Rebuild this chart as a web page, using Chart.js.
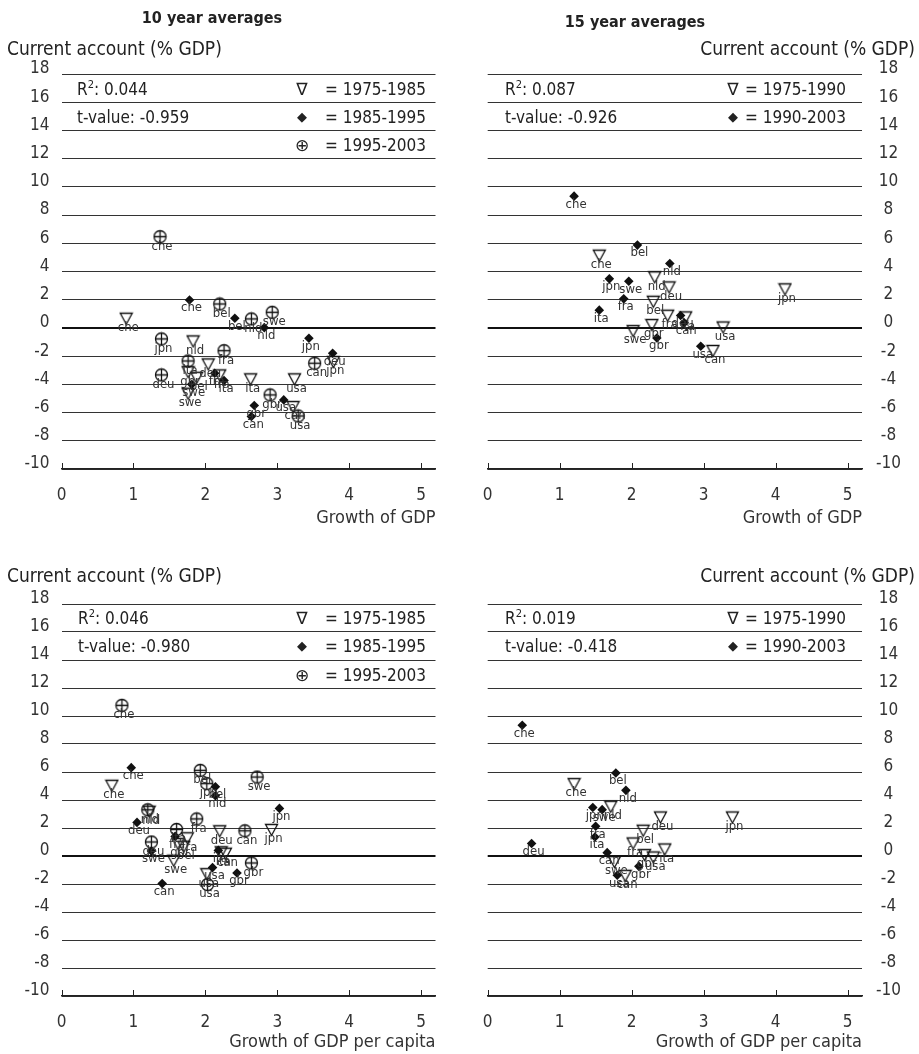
<!DOCTYPE html>
<html>
<head>
<meta charset="utf-8">
<script src="https://cdn.jsdelivr.net/npm/chart.js@4.4.1/dist/chart.umd.min.js"></script>
<style>
  body { margin: 0; background: #fff; width: 919px; height: 1054px; position: relative; overflow: hidden;
    font-family: "Liberation Sans Narrow", "DejaVu Sans Condensed", "Roboto Condensed", Roboto, sans-serif;
    font-stretch: condensed; color: #222; }
  canvas { position: absolute; }
  .note { position: absolute; white-space: nowrap; font-size: 17px; line-height: 20px; }
  .note sup { font-size: 11px; line-height: 0; }
  .sym { font-family: "DejaVu Sans", sans-serif; font-stretch: normal; }
</style>
</head>
<body>
<script>
const fontFamily = '"Liberation Sans Narrow", "DejaVu Sans Condensed", "Roboto Condensed", Roboto, sans-serif';

const countries = ['bel', 'can', 'che', 'deu', 'fra', 'gbr', 'ita', 'jpn', 'nld', 'swe', 'usa'];
const xTicks = [0, 1, 2, 3, 4, 5];
const yTicks = [-10, -8, -6, -4, -2, 0, 2, 4, 6, 8, 10, 12, 14, 16, 18];

// 10 year averages vs growth of GDP (countries in the order above)
const gdp10_7585_x = [1.88, 3.22, 0.90, 2.04, 2.20, 1.76, 2.63, 3.78, 1.83, 1.76, 3.24];
const gdp10_7585_y = [-3.5, -5.57, 0.69, -2.55, -3.33, -3.1, -3.61, -2.38, -0.92, -4.63, -3.61];
const gdp10_8595_x = [2.41, 2.64, 1.78, 3.77, 2.13, 2.68, 2.26, 3.44, 2.82, 1.81, 3.09];
const gdp10_8595_y = [0.69, -6.28, 1.98, -1.80, -3.21, -5.50, -3.73, -0.73, 0.02, -4.0, -5.10];
const gdp10_9503_x = [2.20, 3.52, 1.37, 1.39, 2.26, 2.90, 1.76, 1.39, 2.64, 2.93, 3.29];
const gdp10_9503_y = [1.70, -2.50, 6.47, -3.33, -1.61, -4.75, -2.34, -0.78, 0.64, 1.11, -6.24];

// 15 year averages vs growth of GDP
const gdp15_7590_x = [2.30, 3.13, 1.55, 2.52, 2.50, 2.28, 2.75, 4.13, 2.32, 2.02, 3.27];
const gdp15_7590_y = [1.89, -1.60, 5.16, 2.91, 0.90, 0.24, 0.78, 2.77, 3.62, -0.19, 0.07];
const gdp15_9003_x = [2.08, 2.73, 1.20, 2.68, 1.89, 2.35, 1.55, 1.69, 2.53, 1.96, 2.96];
const gdp15_9003_y = [5.87, 0.36, 9.34, 0.88, 2.06, -0.71, 1.26, 3.48, 4.57, 3.31, -1.30];

// 10 year averages vs growth of GDP per capita
const cap10_7585_x = [1.70, 2.28, 0.70, 2.20, 1.75, 1.62, 2.22, 2.92, 1.22, 1.56, 2.02];
const cap10_7585_y = [0.7, 0.2, 5.05, 1.8, 1.3, 0.9, 0.3, 1.9, 3.2, -0.3, -1.26];
const cap10_8595_x = [2.14, 1.40, 0.97, 1.05, 1.58, 2.44, 2.18, 3.03, 2.14, 1.25, 2.10];
const cap10_8595_y = [4.95, -1.97, 6.31, 2.4, 1.4, -1.21, 0.4, 3.4, 4.3, 0.35, -0.83];
const cap10_9503_x = [1.93, 2.55, 0.84, 1.25, 1.88, 2.64, 1.60, 2.02, 1.20, 2.72, 2.03];
const cap10_9503_y = [6.12, 1.8, 10.76, 1.0, 2.65, -0.5, 1.9, 5.17, 3.3, 5.64, -2.04];

// 15 year averages vs growth of GDP per capita
const cap15_7590_x = [2.16, 1.91, 1.20, 2.40, 2.02, 2.18, 2.46, 3.40, 1.71, 1.76, 2.30];
const cap15_7590_y = [1.84, -1.38, 5.17, 2.79, 0.93, 0.1, 0.5, 2.79, 3.55, -0.4, -0.07];
const cap15_9003_x = [1.78, 1.66, 0.48, 0.61, 1.50, 2.10, 1.49, 1.46, 1.92, 1.59, 1.80];
const cap15_9003_y = [5.93, 0.24, 9.34, 0.89, 2.12, -0.74, 1.36, 3.46, 4.69, 3.31, -1.38];

const r2Values = ['0.044', '0.087', '0.046', '0.019'];
const tValues = ['-0.959', '-0.926', '-0.980', '-0.418'];
const periods10 = ['1975-1985', '1985-1995', '1995-2003'];
const periods15 = ['1975-1990', '1990-2003'];

// marker images
function makeMarker(kind) {
  const c = document.createElement('canvas');
  c.width = 15; c.height = 15;
  const g = c.getContext('2d');
  g.strokeStyle = '#111';
  g.lineWidth = 1.3;
  g.beginPath();
  if (kind === 'tri') {
    g.moveTo(1.5, 2.5); g.lineTo(13.5, 2.5); g.lineTo(7.5, 13.5); g.closePath();
  } else {
    g.arc(7.5, 7.5, 6, 0, 2 * Math.PI);
    g.moveTo(1.5, 7.5); g.lineTo(13.5, 7.5);
    g.moveTo(7.5, 1.5); g.lineTo(7.5, 13.5);
  }
  g.stroke();
  return c;
}
const triImg = makeMarker('tri');
const plusImg = makeMarker('oplus');

const pts = (xs, ys) => xs.map((x, i) => ({ x: x, y: ys[i] }));

function series(kind, xs, ys) {
  const ds = { data: pts(xs, ys), codes: countries, pointRadius: 7, pointHoverRadius: 7 };
  if (kind === 'dia') {
    ds.pointStyle = 'rectRot';
    ds.pointRadius = 4.8;
    ds.pointHoverRadius = 4.8;
    ds.backgroundColor = '#111';
    ds.borderWidth = 0;
    ds.labelDy = 8;
  } else {
    ds.pointStyle = kind === 'tri' ? triImg : plusImg;
    ds.labelDy = 9.5;
  }
  return ds;
}

const pointLabels = {
  id: 'pointLabels',
  afterDatasetsDraw(chart) {
    const ctx = chart.ctx;
    ctx.save();
    ctx.font = '13px ' + fontFamily;
    ctx.fillStyle = '#333';
    ctx.textAlign = 'center';
    ctx.textBaseline = 'middle';
    chart.data.datasets.forEach((ds, i) => {
      chart.getDatasetMeta(i).data.forEach((pt, j) => {
        ctx.fillText(ds.codes[j], pt.x + 2, pt.y + ds.labelDy);
      });
    });
    ctx.restore();
  }
};

// small ticks pointing up from the x axis
const axisTicks = {
  id: 'axisTicks',
  afterDraw(chart) {
    const ctx = chart.ctx, xs = chart.scales.x, bottom = chart.chartArea.bottom;
    ctx.save();
    ctx.strokeStyle = '#222';
    ctx.lineWidth = 1;
    ctx.beginPath();
    xTicks.forEach(v => {
      const px = Math.round(xs.getPixelForValue(v)) + 0.5;
      ctx.moveTo(px, bottom);
      ctx.lineTo(px, bottom - 6);
    });
    ctx.stroke();
    ctx.restore();
  }
};

function makePanel(p) {
  const wrap = document.createElement('div');
  wrap.style.position = 'absolute';
  wrap.style.left = p.left + 'px';
  wrap.style.top = p.top + 'px';
  wrap.style.width = p.width + 'px';
  wrap.style.height = p.height + 'px';
  const canvas = document.createElement('canvas');
  canvas.style.left = '0px';
  canvas.style.top = '0px';
  canvas.style.width = p.width + 'px';
  canvas.style.height = p.height + 'px';
  wrap.appendChild(canvas);
  document.body.appendChild(wrap);

  const left = p.side === 'left';
  new Chart(canvas, {
    type: 'scatter',
    data: { datasets: p.datasets },
    options: {
      responsive: false,
      animation: false,
      events: [],
      layout: { padding: { top: 74, left: left ? 0 : 27.7, right: left ? 24.5 : 0, bottom: 0 } },
      plugins: { legend: { display: false }, tooltip: { enabled: false } },
      scales: {
        x: {
          type: 'linear', min: 0, max: 5.2,
          afterBuildTicks: s => { s.ticks = xTicks.map(v => ({ value: v })); },
          afterFit: s => { s.height = p.xAxisHeight; },
          grid: { display: false },
          border: { display: true, color: '#222', width: 1.5 },
          ticks: { font: { size: 17 }, color: '#333', padding: 8, maxRotation: 0 },
          title: { display: true, text: p.xTitle, align: 'end', font: { size: 18 }, color: '#333', padding: { top: 0, bottom: 1 } }
        },
        y: {
          type: 'linear', min: -10, max: 18, position: p.side,
          afterBuildTicks: s => { s.ticks = yTicks.map(v => ({ value: v })); },
          afterFit: s => { s.width = left ? 61.5 : 57; },
          border: { display: false },
          grid: {
            drawTicks: false,
            color: c => c.tick && c.tick.value === 0 ? '#111' : '#333',
            lineWidth: c => c.tick && c.tick.value === 0 ? 2 : 1
          },
          ticks: { font: { size: 17 }, color: '#333', padding: left ? 12 : 14, crossAlign: left ? 'near' : 'center', labelOffset: -5 }
        }
      }
    },
    plugins: [pointLabels, axisTicks]
  });
}

function note(html, x, y, align, extra) {
  const d = document.createElement('div');
  d.className = 'note';
  d.innerHTML = html;
  d.style.top = (y - 10) + 'px';
  if (align === 'right') d.style.right = (919 - x) + 'px';
  else d.style.left = x + 'px';
  if (align === 'center') d.style.transform = 'translateX(-50%)';
  if (extra) Object.assign(d.style, extra);
  document.body.appendChild(d);
  return d;
}

Chart.defaults.font.family = fontFamily;

makePanel({ left: 0, top: 0, width: 460, height: 530, side: 'left', xAxisHeight: 61, xTitle: 'Growth of GDP',
  datasets: [series('tri', gdp10_7585_x, gdp10_7585_y), series('dia', gdp10_8595_x, gdp10_8595_y), series('plus', gdp10_9503_x, gdp10_9503_y)] });
makePanel({ left: 460, top: 0, width: 459, height: 530, side: 'right', xAxisHeight: 61, xTitle: 'Growth of GDP',
  datasets: [series('tri', gdp15_7590_x, gdp15_7590_y), series('dia', gdp15_9003_x, gdp15_9003_y)] });
makePanel({ left: 0, top: 530, width: 460, height: 524, side: 'left', xAxisHeight: 58, xTitle: 'Growth of GDP per capita',
  datasets: [series('tri', cap10_7585_x, cap10_7585_y), series('dia', cap10_8595_x, cap10_8595_y), series('plus', cap10_9503_x, cap10_9503_y)] });
makePanel({ left: 460, top: 530, width: 459, height: 524, side: 'right', xAxisHeight: 58, xTitle: 'Growth of GDP per capita',
  datasets: [series('tri', cap15_7590_x, cap15_7590_y), series('dia', cap15_9003_x, cap15_9003_y)] });

// titles and axis captions
const caption = { fontSize: '19px' };
note('10 year averages', 212, 18, 'center', { fontWeight: 'bold', fontSize: '16px' });
note('15 year averages', 635, 22, 'center', { fontWeight: 'bold', fontSize: '16px' });
note('Current account (% GDP)', 7, 48, 'left', caption);
note('Current account (% GDP)', 915, 48, 'right', caption);
note('Current account (% GDP)', 7, 575, 'left', caption);
note('Current account (% GDP)', 915, 575, 'right', caption);

// regression stats and legends inside the plots
const symbols = ['&#8711;', '&#9670;', '&#8853;'];
const symSize = ['17px', '13px', '17px'];
function statsBlock(i, x0, y0, symX, textX, periods) {
  const rowH = 28.4;
  note('R<sup>2</sup>: ' + r2Values[i], x0, y0, 'left');
  note('t-value: ' + tValues[i], x0, y0 + rowH, 'left');
  periods.forEach((per, k) => {
    note(symbols[k], symX, y0 + k * rowH, 'center', { fontSize: symSize[k] }).classList.add('sym');
    note('= ' + per, textX, y0 + k * rowH, 'left');
  });
}
statsBlock(0, 77, 88.5, 302, 325, periods10);
statsBlock(1, 505, 88.5, 733, 745, periods15);
statsBlock(2, 78, 618, 302, 325, periods10);
statsBlock(3, 505, 618, 733, 745, periods15);
</script>
</body>
</html>
